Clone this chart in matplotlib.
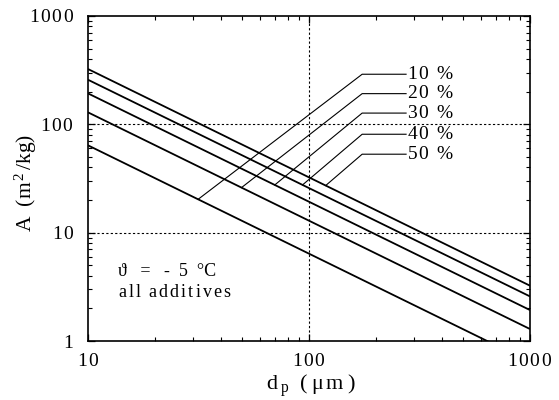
import matplotlib
matplotlib.use('Agg')
import matplotlib.pyplot as plt
import numpy as np

plt.rcParams['font.family'] = ['Liberation Serif', 'DejaVu Serif']
plt.rcParams['mathtext.fontset'] = 'custom'
plt.rcParams['mathtext.rm'] = 'Liberation Serif'
plt.rcParams['mathtext.it'] = 'Liberation Serif:italic'


def spaced(s, gap=0.13):
    # loose letter spacing of the original, done with mathtext \hspace
    parts = []
    for c in s:
        if c == ' ':
            parts.append(r'\ ')
        elif c == '%':
            parts.append(r'\%')
        else:
            parts.append(c)
    return r'$\mathrm{' + (r'\hspace{%g}' % gap).join(parts) + '}$'


# A = c / d_p, read at d_p = 10 and d_p = 1000
labels = ['10 %', '20 %', '30 %', '40 %', '50 %']
d_ends = [10, 1000]
A_at_10 = [64, 129, 193, 258, 324]
A_at_1000 = [0.64, 1.29, 1.93, 2.58, 3.24]

# leader lines: point on curve (d) -> elbow (d, A) -> end of horizontal (d)
leader_d = [31.5, 49.5, 70, 93.5, 119]
elbow_d = 174
elbow_A = [290, 192, 127, 81, 53]
label_d = 275

fig = plt.figure(figsize=(5.59, 4.0), dpi=100)
ax = fig.add_axes([0.1574, 0.1475, 0.7907, 0.8125])

for a0, a1 in zip(A_at_10, A_at_1000):
    ax.plot(d_ends, [a0, a1], color='black', lw=1.3, solid_capstyle='butt')

for i, lab in enumerate(labels):
    # slope -1: A(d) = A_at_10 * 10 / d
    a_pt = A_at_10[i] * 10.0 / leader_d[i]
    ax.plot([leader_d[i], elbow_d, label_d], [a_pt, elbow_A[i], elbow_A[i]],
            color='black', lw=0.8)
    ax.text(label_d * 1.012, elbow_A[i], spaced(lab, 0.12), fontsize=14,
            va='center', ha='left')

ax.set_xscale('log')
ax.set_yscale('log')
ax.set_xlim(10, 1000)
ax.set_ylim(1, 1000)

ax.set_xticks([10, 100, 1000])
ax.set_xticklabels([spaced(t, 0.12) for t in ['10', '100', '1000']])
ax.set_yticks([1, 10, 100, 1000])
ax.set_yticklabels([spaced(t, 0.12) for t in ['1', '10', '100', '1000']])

ax.axvline(100, color='black', lw=0.8, ls=(0, (2, 2)))
for v in [10, 100]:
    ax.axhline(v, color='black', lw=0.8, ls=(0, (2, 2)))

ax.tick_params(which='both', direction='in', top=True, right=True, labelsize=14)
ax.tick_params(which='major', length=5, width=0.9)
ax.tick_params(which='minor', length=3, width=0.8)
ax.tick_params(axis='y', pad=10)
ax.tick_params(axis='x', pad=9)
for s in ax.spines.values():
    s.set_linewidth(1.2)

ax.set_xlabel(r'$\mathrm{d_{\;p}\ \ (\;μ\,m\;)}$', fontsize=16)
ax.xaxis.set_label_coords(0.505, -0.098)
ax.set_ylabel(r'$\mathrm{A\ \ (m^{\,2}\,/kg)}$', fontsize=15.5)
ax.yaxis.set_label_coords(-0.110, 0.485)

ax.text(0.068, 0.213, 'ϑ   =   -  5  °C', transform=ax.transAxes, fontsize=13,
        va='center')
ax.text(0.068, 0.148, spaced('all additives', 0.16), transform=ax.transAxes,
        fontsize=13, va='center')

fig.savefig('out.png', dpi=100)
